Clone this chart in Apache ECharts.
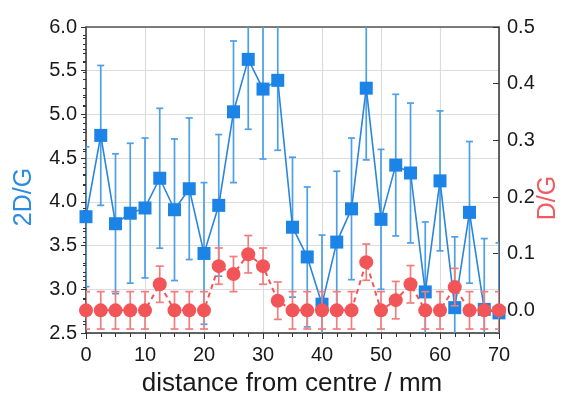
<!DOCTYPE html>
<html>
<head>
<meta charset="utf-8">
<script src="https://cdn.jsdelivr.net/npm/echarts@6/dist/echarts.min.js"></script>
<style>html,body{margin:0;padding:0;background:#fff}#c{width:567px;height:397px}</style>
</head>
<body>
<div id="c"></div>
<script>
// distance from centre / mm
var distance = [0, 2.5, 5, 7.5, 10, 12.5, 15, 17.5, 20, 22.5, 25, 27.5, 30, 32.5, 35, 37.5, 40, 42.5, 45, 47.5, 50, 52.5, 55, 57.5, 60, 62.5, 65, 67.5, 70];
// 2D/G ratio (left axis)
var ratio2DG = [3.83, 4.76, 3.75, 3.87, 3.93, 4.27, 3.91, 4.15, 3.41, 3.96, 5.03, 5.63, 5.29, 5.39, 3.71, 3.37, 2.83, 3.54, 3.92, 5.30, 3.80, 4.42, 4.33, 2.97, 4.24, 2.79, 3.88, 2.77, 2.73];
var err2DG = [0.80, 0.80, 0.80, 0.80, 0.80, 0.80, 0.81, 0.81, 0.81, 0.81, 0.81, 0.80, 0.80, 0.80, 0.80, 0.80, 0.79, 0.81, 0.81, 0.82, 0.80, 0.81, 0.80, 0.80, 0.80, 0.81, 0.81, 0.81, 0.80];
// D/G ratio (right axis)
var ratioDG = [0, 0, 0, 0, 0, 0.046, 0, 0, 0, 0.078, 0.064, 0.099, 0.078, 0.017, 0, 0, 0, 0, 0, 0.085, 0, 0.018, 0.046, 0, 0, 0.041, 0, 0, 0];
var errDG = [0.033, 0.033, 0.033, 0.033, 0.033, 0.032, 0.033, 0.033, 0.033, 0.032, 0.031, 0.033, 0.032, 0.033, 0.033, 0.033, 0.033, 0.033, 0.033, 0.032, 0.033, 0.033, 0.033, 0.033, 0.033, 0.033, 0.033, 0.033, 0.033];
var rightTicks = [0, 0.1, 0.2, 0.3, 0.4, 0.5];
var rightMinorTicks = [-0.02, 0.02, 0.04, 0.06, 0.08, 0.12, 0.14, 0.16, 0.18, 0.22, 0.24, 0.26, 0.28, 0.32, 0.34, 0.36, 0.38, 0.42, 0.44, 0.46, 0.48];

var BLUE = '#1b84e6', BLUE_LINE = '#2a86dc', BLUE_ERR = '#4d9fe8';
var RED = '#f25558', RED_ERR = '#f27d7d';
var FONT = 'Liberation Sans, Arial, sans-serif';

function rows(xs, ys, es) {
  return xs.map(function (x, i) { return [x, ys[i], es[i]]; });
}
function errRenderer(color, cap) {
  return function (params, api) {
    var x = api.value(0), y = api.value(1), e = api.value(2);
    var t = api.coord([x, y + e]), b = api.coord([x, y - e]);
    var st = { stroke: color, lineWidth: 1.7 };
    return {
      type: 'group',
      children: [
        { type: 'line', shape: { x1: t[0], y1: t[1], x2: b[0], y2: b[1] }, style: st },
        { type: 'line', shape: { x1: t[0] - cap, y1: t[1], x2: t[0] + cap, y2: t[1] }, style: st },
        { type: 'line', shape: { x1: b[0] - cap, y1: b[1], x2: b[0] + cap, y2: b[1] }, style: st }
      ]
    };
  };
}

var chart = echarts.init(document.getElementById('c'), null, { renderer: 'canvas' });
chart.setOption({
  animation: false,
  backgroundColor: '#fff',
  grid: { left: 86, right: 68, top: 27, bottom: 64, containLabel: false },
  xAxis: [{
    type: 'value', min: 0, max: 70, interval: 10,
    axisLine: { show: true, onZero: false, lineStyle: { color: '#333', width: 1.5 } },
    axisTick: { show: true, length: 6, lineStyle: { color: '#333' } },
    minorTick: { show: true, splitNumber: 4, length: 4, lineStyle: { color: '#333' } },
    splitLine: { show: true, lineStyle: { color: '#dcdcdc', width: 1.2 } },
    axisLabel: { fontSize: 20, color: '#1a1a1a', fontFamily: FONT, margin: 12 }
  }, {
    type: 'value', min: 0, max: 70, position: 'top',
    axisLine: { show: true, onZero: false, lineStyle: { color: '#555', width: 1.5 } },
    axisTick: { show: false }, axisLabel: { show: false }, splitLine: { show: false }
  }],
  yAxis: [{
    type: 'value', min: 2.5, max: 6, interval: 0.5, position: 'left',
    axisLine: { show: true, onZero: false, lineStyle: { color: '#333', width: 1.5 } },
    axisTick: { show: true, length: 5, lineStyle: { color: '#333' } },
    minorTick: { show: true, splitNumber: 5, length: 3, lineStyle: { color: '#333' } },
    splitLine: { show: true, lineStyle: { color: '#dcdcdc', width: 1.2 } },
    axisLabel: { fontSize: 20, color: '#1a1a1a', fontFamily: FONT, margin: 9,
      formatter: function (v) { return v.toFixed(1); } }
  }, {
    type: 'value', min: -0.04, max: 0.5, position: 'right',
    axisLine: { show: true, onZero: false, lineStyle: { color: '#333', width: 1.5 } },
    axisTick: { show: true, inside: true, length: 6, customValues: rightTicks, lineStyle: { color: '#333' } },
    splitLine: { show: false },
    axisLabel: { fontSize: 20, color: '#1a1a1a', fontFamily: FONT, margin: 8, customValues: rightTicks,
      formatter: function (v) { return v.toFixed(1); } }
  }, {
    type: 'value', min: -0.04, max: 0.5, position: 'right',
    axisLine: { show: false },
    axisTick: { show: true, inside: true, length: 3, customValues: rightMinorTicks, lineStyle: { color: '#333' } },
    splitLine: { show: false },
    axisLabel: { show: false }
  }],
  graphic: [
    { type: 'text', x: 24, y: 197, rotation: Math.PI / 2,
      style: { text: '2D/G', font: '25px ' + FONT, fill: '#2a8be3', align: 'center', verticalAlign: 'middle' } },
    { type: 'text', x: 548, y: 198, rotation: Math.PI / 2,
      style: { text: 'D/G', font: '25px ' + FONT, fill: '#f25a5e', align: 'center', verticalAlign: 'middle' } },
    { type: 'text', x: 292, y: 384,
      style: { text: 'distance from centre / mm', font: '26px ' + FONT, fill: '#1a1a1a', align: 'center', verticalAlign: 'middle' } }
  ],
  series: [{
    type: 'custom', name: '2D/G err', xAxisIndex: 0, yAxisIndex: 0, clip: true, z: 1,
    renderItem: errRenderer(BLUE_ERR, 3.5),
    encode: { x: 0, y: 1 },
    data: rows(distance, ratio2DG, err2DG)
  }, {
    type: 'line', name: '2D/G', xAxisIndex: 0, yAxisIndex: 0, z: 2,
    data: distance.map(function (x, i) { return [x, ratio2DG[i]]; }),
    symbol: 'rect', symbolSize: 13, showAllSymbol: true,
    itemStyle: { color: BLUE },
    lineStyle: { color: BLUE_LINE, width: 1.6 }
  }, {
    type: 'custom', name: 'D/G err', xAxisIndex: 0, yAxisIndex: 1, clip: true, z: 3,
    renderItem: errRenderer(RED_ERR, 4),
    encode: { x: 0, y: 1 },
    data: rows(distance, ratioDG, errDG)
  }, {
    type: 'line', name: 'D/G', xAxisIndex: 0, yAxisIndex: 1, z: 4,
    data: distance.map(function (x, i) { return [x, ratioDG[i]]; }),
    symbol: 'circle', symbolSize: 14, showAllSymbol: true,
    itemStyle: { color: RED },
    lineStyle: { color: RED, width: 2, type: [5, 4] }
  }]
});
</script>
</body>
</html>
